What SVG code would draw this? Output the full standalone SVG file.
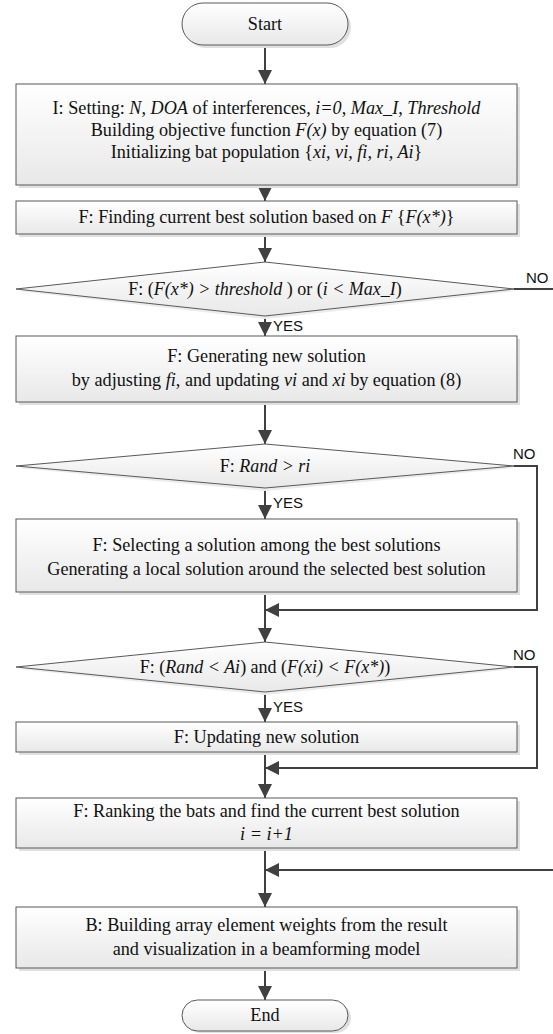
<svg xmlns="http://www.w3.org/2000/svg" width="553" height="1034" viewBox="0 0 553 1034">
<defs>
<linearGradient id="g" x1="0" y1="0" x2="0" y2="1">
<stop offset="0" stop-color="#ffffff"/>
<stop offset="1" stop-color="#e8e8e8"/>
</linearGradient>
<marker id="ah" markerUnits="userSpaceOnUse" markerWidth="14" markerHeight="14" refX="14" refY="7" orient="auto">
<path d="M0,0 L14,7 L0,14 z" fill="#404040"/>
</marker>
</defs>
<style>
.box{fill:url(#g);stroke:#595959;stroke-width:1}
.sh{fill:#e0e0e0}
.t{font-family:"Liberation Serif","Times New Roman",serif;font-size:18.2px;fill:#111;text-anchor:middle}
.d{font-size:18px}
.lb{font-family:"Liberation Sans",Arial,sans-serif;font-size:15px;fill:#111}
.c{fill:none;stroke:#404040;stroke-width:2}
.ca{fill:none;stroke:#404040;stroke-width:2;marker-end:url(#ah)}
</style>
<rect width="553" height="1034" fill="#ffffff"/>

<g id="connectors">
<line class="ca" x1="265" y1="46" x2="265" y2="84"/>
<line class="ca" x1="265" y1="185" x2="265" y2="201"/>
<line class="ca" x1="265" y1="234" x2="265" y2="262"/>
<line class="c" x1="514" y1="289" x2="553" y2="289"/>
<line class="ca" x1="265" y1="316" x2="265" y2="336"/>
<line class="ca" x1="265" y1="402" x2="265" y2="444"/>
<line class="ca" x1="265" y1="488" x2="265" y2="519"/>
<polyline class="ca" points="514,466 537,466 537,610 265,610"/>
<line class="ca" x1="265" y1="592" x2="265" y2="642"/>
<line class="ca" x1="265" y1="692" x2="265" y2="722"/>
<polyline class="ca" points="514,667 537,667 537,768 265,768"/>
<line class="ca" x1="265" y1="752" x2="265" y2="798"/>
<line class="ca" x1="265" y1="848" x2="265" y2="907"/>
<line class="ca" x1="553" y1="870" x2="265" y2="870"/>
<line class="ca" x1="265" y1="968" x2="265" y2="1000"/>
<text class="lb" x="526" y="283">NO</text>
<text class="lb" x="273" y="331">YES</text>
<text class="lb" x="513" y="459">NO</text>
<text class="lb" x="273" y="508">YES</text>
<text class="lb" x="513" y="660">NO</text>
<text class="lb" x="273" y="712">YES</text>
</g>

<g id="start">
<rect class="sh" x="185" y="6" width="166" height="42" rx="21"/>
<rect class="box" x="182" y="3" width="166" height="42" rx="21"/>
<text class="t" x="265" y="30">Start</text>
</g>

<g id="init">
<rect class="sh" x="19" y="87" width="501" height="101"/>
<rect class="box" x="16" y="84" width="501" height="101"/>
<text class="t" x="266.5" y="114">I: Setting: <tspan font-style="italic">N</tspan>, <tspan font-style="italic">DOA</tspan> of interferences, <tspan font-style="italic">i=0</tspan>, <tspan font-style="italic">Max_I</tspan>, <tspan font-style="italic">Threshold</tspan></text>
<text class="t" x="266.5" y="136">Building objective function <tspan font-style="italic">F(x)</tspan> by equation (7)</text>
<text class="t" x="266.5" y="158">Initializing bat population {<tspan font-style="italic">xi, vi, fi, ri, Ai</tspan>}</text>
</g>

<g id="find-best">
<rect class="sh" x="19" y="204" width="501" height="33"/>
<rect class="box" x="16" y="201" width="501" height="33"/>
<text class="t" x="266.5" y="223">F: Finding current best solution based on <tspan font-style="italic">F</tspan> {<tspan font-style="italic">F(x*)</tspan>}</text>
</g>

<g id="cond-stop">
<polygon points="18,291 265,264 516,291 265,319" fill="#ececec"/>
<polygon class="box" points="16,289 265,262 514,289 265,316"/>
<text class="t d" x="265" y="295">F: (<tspan font-style="italic">F(x*) &gt; threshold</tspan> ) or (<tspan font-style="italic">i &lt; Max_I</tspan>)</text>
</g>

<g id="generate">
<rect class="sh" x="19" y="339" width="501" height="66"/>
<rect class="box" x="16" y="336" width="501" height="66"/>
<text class="t" x="266.5" y="362">F: Generating new solution</text>
<text class="t" x="266.5" y="386">by adjusting <tspan font-style="italic">fi</tspan>, and updating <tspan font-style="italic">vi</tspan> and <tspan font-style="italic">xi</tspan> by equation (8)</text>
</g>

<g id="cond-rand">
<polygon points="18,468 265,446 516,468 265,491" fill="#ececec"/>
<polygon class="box" points="16,466 265,444 514,466 265,488"/>
<text class="t d" x="265" y="472">F: <tspan font-style="italic">Rand &gt; ri</tspan></text>
</g>

<g id="select">
<rect class="sh" x="19" y="522" width="501" height="73"/>
<rect class="box" x="16" y="519" width="501" height="73"/>
<text class="t" x="266.5" y="551">F: Selecting a solution among the best solutions</text>
<text class="t" x="266.5" y="575">Generating a local solution around the selected best solution</text>
</g>

<g id="cond-accept">
<polygon points="18,669 265,644 516,669 265,695" fill="#ececec"/>
<polygon class="box" points="16,667 265,642 514,667 265,692"/>
<text class="t d" x="265" y="673">F: (<tspan font-style="italic">Rand &lt; Ai</tspan>) and (<tspan font-style="italic">F(xi) &lt; F(x*)</tspan>)</text>
</g>

<g id="update">
<rect class="sh" x="19" y="725" width="501" height="30"/>
<rect class="box" x="16" y="722" width="501" height="30"/>
<text class="t" x="266.5" y="743">F: Updating new solution</text>
</g>

<g id="rank">
<rect class="sh" x="19" y="801" width="501" height="50"/>
<rect class="box" x="16" y="798" width="501" height="50"/>
<text class="t" x="266.5" y="817">F: Ranking the bats and find the current best solution</text>
<text class="t" x="266.5" y="840" font-style="italic">i = i+1</text>
</g>

<g id="build">
<rect class="sh" x="19" y="910" width="501" height="61"/>
<rect class="box" x="16" y="907" width="501" height="61"/>
<text class="t" x="266.5" y="931">B: Building array element weights from the result</text>
<text class="t" x="266.5" y="955">and visualization in a beamforming model</text>
</g>

<g id="end">
<rect class="sh" x="185" y="1003" width="166" height="30" rx="15"/>
<rect class="box" x="182" y="1000" width="166" height="31" rx="15.5"/>
<text class="t" x="265" y="1021">End</text>
</g>
</svg>
